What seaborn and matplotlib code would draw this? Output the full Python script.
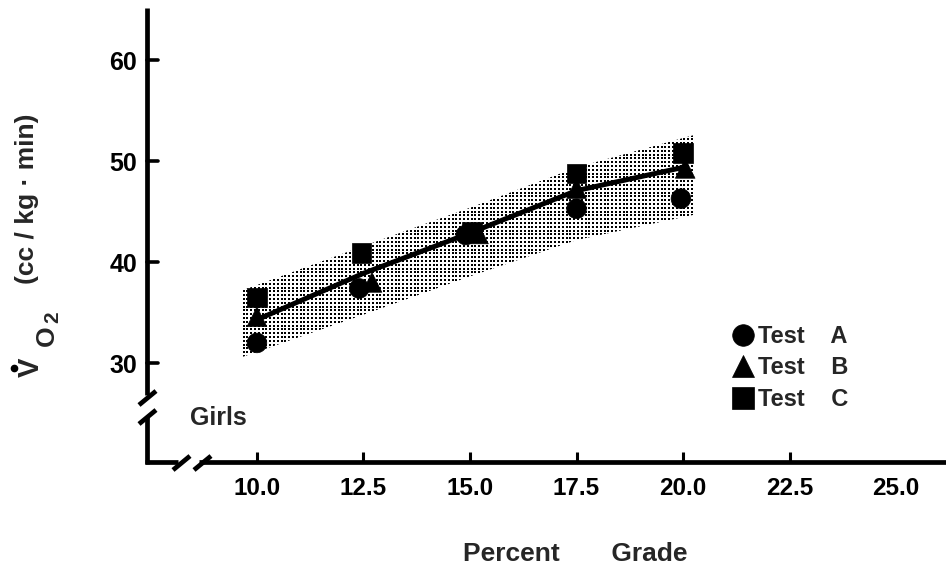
import numpy as np
import pandas as pd
import matplotlib
matplotlib.use("Agg")
import matplotlib.pyplot as plt
from matplotlib.lines import Line2D
import seaborn as sns

# Oxygen uptake of girls at each treadmill grade, three test protocols
grade_a = [10.0, 12.4, 14.9, 17.5, 19.95]
vo2_a = [32.0, 37.4, 42.7, 45.3, 46.3]
grade_b = [10.0, 12.7, 15.2, 17.5, 20.05]
vo2_b = [34.6, 38.0, 42.8, 47.3, 49.3]
grade_c = [10.0, 12.45, 15.05, 17.5, 20.0]
vo2_c = [36.5, 40.9, 43.0, 48.8, 50.8]
test_names = ["Test    A", "Test    B", "Test    C"]

# Mean response curve
curve_grade = [10.0, 12.5, 15.0, 17.5, 20.0]
curve_vo2 = [34.3, 38.9, 42.9, 47.1, 49.4]

# Shaded spread around the curve
band_grade = [9.65, 12.5, 15.0, 17.5, 20.25]
band_low = [30.6, 34.8, 38.6, 42.2, 44.7]
band_high = [37.2, 41.6, 45.4, 49.4, 52.6]

x_ticks = [10.0, 12.5, 15.0, 17.5, 20.0, 22.5, 25.0]
x_tick_labels = ["10.0", "12.5", "15.0", "17.5", "20.0", "22.5", "25.0"]
y_ticks = [30, 40, 50, 60]
y_tick_labels = ["30", "40", "50", "60"]

df = pd.DataFrame({
    "grade": grade_a + grade_b + grade_c,
    "vo2": vo2_a + vo2_b + vo2_c,
    "test": [test_names[0]] * 5 + [test_names[1]] * 5 + [test_names[2]] * 5,
})
curve_df = pd.DataFrame({"grade": curve_grade, "vo2": curve_vo2})

sns.set_theme(style="white")
plt.rcParams["font.family"] = ["Liberation Sans", "DejaVu Sans"]
plt.rcParams["font.weight"] = "bold"

W, H = 946, 569
fig = plt.figure(figsize=(W / 100, H / 100), dpi=100)
fig.patch.set_facecolor("white")

ax_left, ax_right, ax_top, ax_bottom = 147, 946, 8, 462
ax = fig.add_axes([ax_left / W, (H - ax_bottom) / H,
                   (ax_right - ax_left) / W, (ax_bottom - ax_top) / H])
ax.set_facecolor("white")
ax.set_xlim(7.42, 26.17)
ax.set_ylim(20.2, 65.2)

# stippled spread band: a screen of fine dots clipped to the band outline
band = ax.fill_between(band_grade, band_low, band_high, facecolor="none",
                       edgecolor="none", linewidth=0, zorder=1)
step = 3.8
px = np.arange(236, 700, step)
py = np.arange(128, 362, step)
gx, gy = np.meshgrid(px, py)
disp = np.column_stack([gx.ravel(), H - gy.ravel()])
dat = ax.transData.inverted().transform(disp)
dots = ax.scatter(dat[:, 0], dat[:, 1], s=2.0, marker="s", color="black",
                  linewidths=0, zorder=1)
dots.set_clip_path(band.get_paths()[0], ax.transData)

sns.lineplot(data=curve_df, x="grade", y="vo2", color="black", lw=3.6,
             ax=ax, zorder=3)
sns.scatterplot(data=df, x="grade", y="vo2", style="test",
                markers={test_names[0]: "o", test_names[1]: "^", test_names[2]: "s"},
                color="black", s=200, edgecolor="black", linewidth=0.5,
                ax=ax, zorder=4)

ax.set_xlabel("")
ax.set_ylabel("")

for sp in ax.spines.values():
    sp.set_visible(False)


def fx(p):
    return (p - ax_left) / (ax_right - ax_left)


def fy(p):
    return (ax_bottom - p) / (ax_bottom - ax_top)


axis_kw = dict(color="black", lw=3.4, transform=ax.transAxes, clip_on=False,
               solid_capstyle="butt", zorder=5)
# y axis with break
ax.plot([0, 0], [fy(ax_top), fy(395)], **axis_kw)
ax.plot([0, 0], [fy(416), fy(ax_bottom) - 0.004], **axis_kw)
ax.plot([fx(139), fx(156)], [fy(405), fy(391)], **axis_kw)
ax.plot([fx(139), fx(156)], [fy(424), fy(410)], **axis_kw)
# x axis with break
ax.plot([-0.002, fx(178)], [0, 0], **axis_kw)
ax.plot([fx(199), 1.0], [0, 0], **axis_kw)
ax.plot([fx(173), fx(190)], [fy(470), fy(456)], **axis_kw)
ax.plot([fx(194), fx(211)], [fy(470), fy(456)], **axis_kw)

ax.set_xticks(x_ticks)
ax.set_xticklabels(x_tick_labels)
ax.set_yticks(y_ticks)
ax.set_yticklabels(y_tick_labels)
ax.tick_params(axis="x", direction="in", length=7, width=2.2, pad=11,
               labelsize=17.5, bottom=True, colors="black")
ax.tick_params(axis="y", direction="out", length=0, pad=7,
               labelsize=18, left=True, colors="black")
ax.xaxis.get_major_ticks()[-1].tick1line.set_visible(False)
# y ticks drawn inward from the broken axis
for yv in y_ticks:
    ax.plot([0, fx(158)], [(yv - 20.2) / 45.0] * 2, color="black", lw=2.6,
            transform=ax.transAxes, clip_on=False, zorder=5)
for lab in ax.get_xticklabels() + ax.get_yticklabels():
    lab.set_fontweight("bold")

leg = ax.legend(loc="upper left", bbox_to_anchor=(fx(731), fy(325)),
                frameon=False, fontsize=17, handletextpad=0.15,
                labelspacing=0.36, borderaxespad=0, borderpad=0,
                handlelength=1.0, markerscale=1.1)
for t in leg.get_texts():
    t.set_fontweight("bold")

fig.text(190 / W, 1 - 418 / H, "Girls", fontsize=18, fontweight="bold",
         ha="left", va="center")
fig.text(575 / W, 1 - 554 / H, "Percent       Grade", fontsize=19,
         fontweight="bold", ha="center", va="center")

# y axis title: V-dot O2 (cc / kg · min)
fig.text(31 / W, 1 - 367 / H, "V", fontsize=21, fontweight="bold",
         rotation=90, ha="center", va="center")
fig.add_artist(Line2D([14 / W], [1 - 368 / H], marker="o", markersize=4.5,
                      color="black", transform=fig.transFigure))
fig.text(47 / W, 1 - 336 / H, "O", fontsize=19, fontweight="bold",
         rotation=90, ha="center", va="center")
fig.text(53 / W, 1 - 317 / H, "2", fontsize=15, fontweight="bold",
         rotation=90, ha="center", va="center")
fig.text(27 / W, 1 - 199 / H, "(cc / kg \u00b7 min)", fontsize=19,
         fontweight="bold", rotation=90, ha="center", va="center")

fig.savefig("out.png", dpi=100, facecolor="white")
